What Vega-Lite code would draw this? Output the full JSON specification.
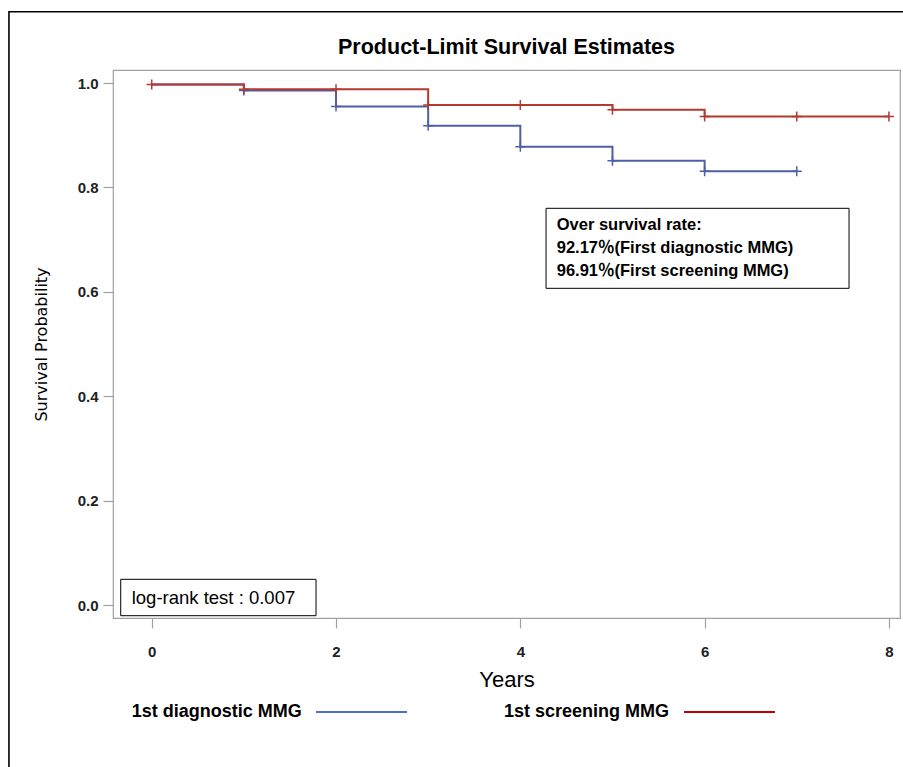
{
  "$schema": "https://vega.github.io/schema/vega-lite/v6.json",
  "width": 787,
  "height": 548,
  "autosize": {"type": "none"},
  "padding": {"left": 113, "top": 70, "right": 3, "bottom": 149},
  "background": "white",
  "config": {
    "view": {"stroke": "#a0a0a0", "strokeWidth": 1.2},
    "axis": {"grid": false, "domain": false, "tickColor": "#a0a0a0", "tickSize": 10, "tickWidth": 1.2, "labelFont": "Liberation Sans", "labelFontWeight": "bold", "labelFontSize": 15, "labelColor": "#222222", "titleColor": "#000000", "titleFontWeight": "normal"}
  },
  "datasets": {
    "curves": [
      {"group": "1st diagnostic MMG", "time": 0, "surv": 0.997},
      {"group": "1st diagnostic MMG", "time": 1, "surv": 0.9855},
      {"group": "1st diagnostic MMG", "time": 2, "surv": 0.955},
      {"group": "1st diagnostic MMG", "time": 3, "surv": 0.918},
      {"group": "1st diagnostic MMG", "time": 4, "surv": 0.878},
      {"group": "1st diagnostic MMG", "time": 5, "surv": 0.851},
      {"group": "1st diagnostic MMG", "time": 6, "surv": 0.831},
      {"group": "1st diagnostic MMG", "time": 7, "surv": 0.831},
      {"group": "1st screening MMG", "time": 0, "surv": 0.997},
      {"group": "1st screening MMG", "time": 1, "surv": 0.988},
      {"group": "1st screening MMG", "time": 3, "surv": 0.958},
      {"group": "1st screening MMG", "time": 5, "surv": 0.949},
      {"group": "1st screening MMG", "time": 6, "surv": 0.936},
      {"group": "1st screening MMG", "time": 8, "surv": 0.936}
    ],
    "censor": [
      {"group": "1st diagnostic MMG", "time": 1, "surv": 0.9855},
      {"group": "1st diagnostic MMG", "time": 2, "surv": 0.955},
      {"group": "1st diagnostic MMG", "time": 3, "surv": 0.918},
      {"group": "1st diagnostic MMG", "time": 4, "surv": 0.878},
      {"group": "1st diagnostic MMG", "time": 5, "surv": 0.851},
      {"group": "1st diagnostic MMG", "time": 6, "surv": 0.831},
      {"group": "1st diagnostic MMG", "time": 7, "surv": 0.831},
      {"group": "1st screening MMG", "time": 0, "surv": 0.997},
      {"group": "1st screening MMG", "time": 1, "surv": 0.988},
      {"group": "1st screening MMG", "time": 2, "surv": 0.988},
      {"group": "1st screening MMG", "time": 3, "surv": 0.958},
      {"group": "1st screening MMG", "time": 4, "surv": 0.958},
      {"group": "1st screening MMG", "time": 5, "surv": 0.949},
      {"group": "1st screening MMG", "time": 6, "surv": 0.936},
      {"group": "1st screening MMG", "time": 7, "surv": 0.936},
      {"group": "1st screening MMG", "time": 8, "surv": 0.936}
    ],
    "one": [{"note": ""}]
  },
  "layer": [
    {
      "data": {"name": "curves"},
      "transform": [{"filter": "datum.group === '1st diagnostic MMG'"}],
      "mark": {"type": "line", "interpolate": "step-after", "strokeWidth": 2, "color": "#4f5fa6"},
      "encoding": {
        "x": {"field": "time", "type": "quantitative", "scale": {"domain": [-0.42, 8.12], "nice": false, "zero": false}, "axis": {"values": [0, 2, 4, 6, 8], "format": "d", "title": "Years", "titleFont": "Liberation Sans", "titleFontSize": 22, "labelPadding": 16, "titlePadding": 10}},
        "y": {"field": "surv", "type": "quantitative", "scale": {"domain": [-0.0243, 1.0249], "nice": false, "zero": false}, "axis": {"values": [0, 0.2, 0.4, 0.6, 0.8, 1.0], "format": ".1f", "title": "Survival Probability", "titleFont": "DejaVu Sans", "titleFontSize": 16, "labelPadding": 5, "titlePadding": 28}}
      }
    },
    {
      "data": {"name": "curves"},
      "transform": [{"filter": "datum.group === '1st screening MMG'"}],
      "mark": {"type": "line", "interpolate": "step-after", "strokeWidth": 2, "color": "#b23a2e"},
      "encoding": {
        "x": {"field": "time", "type": "quantitative"},
        "y": {"field": "surv", "type": "quantitative"}
      }
    },
    {
      "data": {"name": "censor"},
      "mark": {"type": "point", "shape": "M-1,0H1M0,-1V1", "size": 100, "filled": false, "strokeWidth": 1.5, "opacity": 1},
      "encoding": {
        "x": {"field": "time", "type": "quantitative"},
        "y": {"field": "surv", "type": "quantitative"},
        "color": {"field": "group", "type": "nominal", "scale": {"domain": ["1st diagnostic MMG", "1st screening MMG"], "range": ["#4f5fa6", "#b23a2e"]}, "legend": null}
      }
    },
    {
      "data": {"name": "one"},
      "mark": {"type": "rect", "fill": "transparent", "stroke": "#000000", "strokeWidth": 1.6},
      "encoding": {
        "x": {"datum": -1.549, "type": "quantitative"},
        "x2": {"datum": 9.2},
        "y": {"datum": 1.1365, "type": "quantitative"},
        "y2": {"datum": -0.6}
      }
    },
    {
      "data": {"name": "one"},
      "mark": {"type": "text", "font": "Liberation Sans", "fontSize": 21.5, "fontWeight": "bold", "align": "center", "baseline": "alphabetic", "color": "#000000"},
      "encoding": {
        "x": {"datum": 3.85, "type": "quantitative"},
        "y": {"datum": 1.055, "type": "quantitative"},
        "text": {"value": "Product-Limit Survival Estimates"}
      }
    },
    {
      "data": {"name": "one"},
      "mark": {"type": "rect", "fill": "white", "stroke": "#000000", "strokeWidth": 1},
      "encoding": {
        "x": {"datum": 4.279, "type": "quantitative"},
        "x2": {"datum": 7.567},
        "y": {"datum": 0.7601, "type": "quantitative"},
        "y2": {"datum": 0.6069}
      }
    },
    {
      "data": {"name": "one"},
      "mark": {"type": "rect", "fill": "white", "stroke": "#000000", "strokeWidth": 1},
      "encoding": {
        "x": {"datum": -0.3364, "type": "quantitative"},
        "x2": {"datum": 1.783},
        "y": {"datum": 0.0498, "type": "quantitative"},
        "y2": {"datum": -0.0199}
      }
    },
    {
      "data": {"name": "one"},
      "mark": {"type": "text", "font": "'Liberation Sans', 'Noto Sans CJK SC'", "fontSize": 16.5, "fontWeight": "bold", "align": "left", "baseline": "middle", "lineHeight": 23, "color": "#000000"},
      "encoding": {
        "x": {"datum": 4.395, "type": "quantitative"},
        "y": {"datum": 0.7281, "type": "quantitative"},
        "text": {"value": ["Over survival rate:", "92.17％(First diagnostic MMG)", "96.91％(First screening MMG)"]}
      }
    },
    {
      "data": {"name": "one"},
      "mark": {"type": "text", "font": "Liberation Sans", "fontSize": 18.5, "align": "left", "baseline": "middle", "color": "#000000"},
      "encoding": {
        "x": {"datum": -0.217, "type": "quantitative"},
        "y": {"datum": 0.0146, "type": "quantitative"},
        "text": {"value": "log-rank test : 0.007"}
      }
    },
    {
      "data": {"name": "one"},
      "mark": {"type": "text", "font": "Liberation Sans", "fontSize": 18, "fontWeight": "bold", "align": "left", "baseline": "middle", "color": "#000000"},
      "encoding": {
        "x": {"datum": -0.217, "type": "quantitative"},
        "y": {"datum": -0.2043, "type": "quantitative"},
        "text": {"value": "1st diagnostic MMG"}
      }
    },
    {
      "data": {"name": "one"},
      "mark": {"type": "text", "font": "Liberation Sans", "fontSize": 18, "fontWeight": "bold", "align": "left", "baseline": "middle", "color": "#000000"},
      "encoding": {
        "x": {"datum": 3.823, "type": "quantitative"},
        "y": {"datum": -0.2043, "type": "quantitative"},
        "text": {"value": "1st screening MMG"}
      }
    },
    {
      "data": {"name": "one"},
      "mark": {"type": "rule", "color": "#4472c4", "strokeWidth": 2},
      "encoding": {
        "x": {"datum": 1.783, "type": "quantitative"},
        "x2": {"datum": 2.771},
        "y": {"datum": -0.2043, "type": "quantitative"}
      }
    },
    {
      "data": {"name": "one"},
      "mark": {"type": "rule", "color": "#c00000", "strokeWidth": 2},
      "encoding": {
        "x": {"datum": 5.776, "type": "quantitative"},
        "x2": {"datum": 6.763},
        "y": {"datum": -0.2043, "type": "quantitative"}
      }
    }
  ]
}
